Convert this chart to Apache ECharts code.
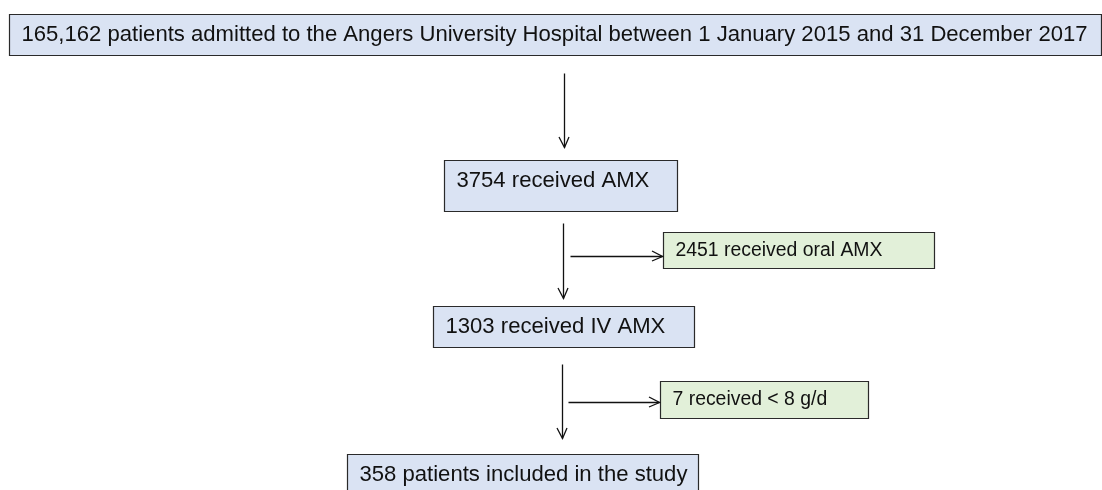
<!DOCTYPE html>
<html>
<head>
<meta charset="utf-8">
<script src="https://cdn.jsdelivr.net/npm/echarts@6/dist/echarts.min.js"></script>
<style>
html,body{margin:0;padding:0;background:#fff;}
#chart{width:1102px;height:490px;}
</style>
</head>
<body>
<div id="chart"></div>
<script>
// ---- data ----
const stepCounts = [165162, 3754, 2451, 1303, 7, 358];
const stepTexts = [
  '165,162 patients admitted to the Angers University Hospital between 1 January 2015 and 31 December 2017',
  '3754 received AMX',
  '2451 received oral AMX',
  '1303 received IV AMX',
  '7 received < 8 g/d',
  '358 patients included in the study'
];
const stepKinds = ['main', 'main', 'excluded', 'main', 'excluded', 'main'];

// ---- layout (pixel space of the diagram) ----
const boxLayout = [
  {x0: 9,   y0: 14,  x1: 1101, y1: 55},
  {x0: 444, y0: 160, x1: 677,  y1: 211},
  {x0: 663, y0: 232, x1: 934,  y1: 268},
  {x0: 433, y0: 306, x1: 694,  y1: 347},
  {x0: 660, y0: 381, x1: 868,  y1: 418},
  {x0: 347, y0: 454, x1: 698,  y1: 500}
];
const arrowLayout = [
  [564, 73, 564, 147],
  [563, 223, 563, 298],
  [570, 256, 662, 256],
  [562, 364, 562, 438],
  [568, 402, 659, 402]
];

const styleByKind = {
  main: {fill: '#dae3f3', fontSize: 22.1},
  excluded: {fill: '#e2f0d9', fontSize: 19.4}
};
const FONT = '"Liberation Sans", Arial, sans-serif';

const chart = echarts.init(document.getElementById('chart'));
chart.setOption({
  animation: false,
  backgroundColor: '#ffffff',
  grid: {left: 0, right: 0, top: 0, bottom: 0},
  xAxis: {type: 'value', min: 0, max: 1102, show: false},
  yAxis: {type: 'value', min: 0, max: 490, inverse: true, show: false},
  series: [
    {
      type: 'custom',
      clip: false,
      data: stepCounts.map((c, i) => [boxLayout[i].x0, boxLayout[i].y0, boxLayout[i].x1, boxLayout[i].y1, c, i]),
      renderItem: function (params, api) {
        const i = api.value(5);
        const p0 = api.coord([api.value(0), api.value(1)]);
        const p1 = api.coord([api.value(2), api.value(3)]);
        const st = styleByKind[stepKinds[i]];
        const x = Math.round(p0[0]) + 0.5, y = Math.round(p0[1]) + 0.5;
        const w = Math.round(p1[0] - p0[0]), h = Math.round(p1[1] - p0[1]);
        return {
          type: 'group',
          children: [
            {type: 'rect', shape: {x: x, y: y, width: w, height: h},
             style: {fill: st.fill, stroke: '#2a2a2a', lineWidth: 1.2}},
            {type: 'text', x: x + 12, y: y + Math.min(h, 41) / 2,
             style: {text: stepTexts[i], fill: '#111111', fontSize: st.fontSize,
                     fontFamily: FONT, verticalAlign: 'middle', align: 'left'}}
          ]
        };
      }
    },
    {
      type: 'custom',
      clip: false,
      data: arrowLayout,
      renderItem: function (params, api) {
        const a = api.coord([api.value(0), api.value(1)]);
        const b = api.coord([api.value(2), api.value(3)]);
        const dx = b[0] - a[0], dy = b[1] - a[1];
        const len = Math.sqrt(dx * dx + dy * dy);
        const ux = dx / len, uy = dy / len;
        const hl = 10, hw = 5;
        const h1 = [b[0] - ux * hl - uy * hw, b[1] - uy * hl + ux * hw];
        const h2 = [b[0] - ux * hl + uy * hw, b[1] - uy * hl - ux * hw];
        const r = v => Math.round(v) + 0.5;
        return {
          type: 'group',
          children: [
            {type: 'line', shape: {x1: r(a[0]), y1: r(a[1]), x2: r(b[0]), y2: r(b[1])},
             style: {stroke: '#111111', lineWidth: 1.3}},
            {type: 'polyline', shape: {points: [h1, [r(b[0]), r(b[1])], h2]},
             style: {stroke: '#111111', lineWidth: 1.3, fill: null}}
          ]
        };
      }
    }
  ]
});
</script>
</body>
</html>
